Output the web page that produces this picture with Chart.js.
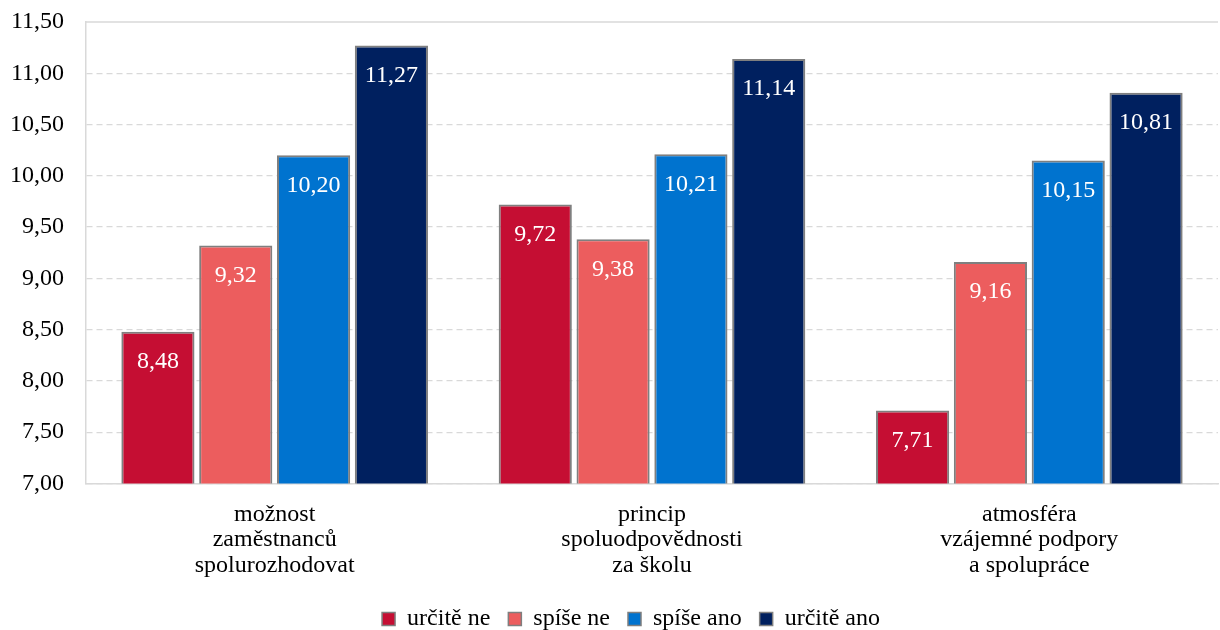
<!DOCTYPE html>
<html>
<head>
<meta charset="utf-8">
<script src="https://cdn.jsdelivr.net/npm/chart.js@4/dist/chart.umd.min.js"></script>
<style>
  html, body { margin: 0; padding: 0; background: #fff; }
  #wrap { width: 1220px; height: 630px; }
</style>
</head>
<body>
<div id="wrap"><canvas id="myChart"></canvas></div>
<script>
const categories = [
    ['možnost', 'zaměstnanců', 'spolurozhodovat'],
    ['princip', 'spoluodpovědnosti', 'za školu'],
    ['atmosféra', 'vzájemné podpory', 'a spolupráce']
];
const seriesNames = ['určitě ne', 'spíše ne', 'spíše ano', 'určitě ano'];
const urciteNe = [8.48, 9.72, 7.71];
const spiseNe = [9.32, 9.38, 9.16];
const spiseAno = [10.20, 10.21, 10.15];
const urciteAno = [11.27, 11.14, 10.81];
const yMin = 7, yMax = 11.5, yStep = 0.5;

const colors = ['#c50e33', '#ec5d5e', '#0073cf', '#00205f'];
const FONT = '"Liberation Serif", "Times New Roman", serif';

const fmt = v => v.toFixed(2).replace('.', ',');

// values written inside the top of each bar
const barLabels = {
    id: 'barLabels',
    afterDatasetsDraw(chart) {
        const ctx = chart.ctx;
        ctx.save();
        ctx.fillStyle = '#ffffff';
        ctx.font = '24px ' + FONT;
        ctx.textAlign = 'center';
        ctx.textBaseline = 'middle';
        chart.data.datasets.forEach((ds, i) => {
            chart.getDatasetMeta(i).data.forEach((bar, j) => {
                ctx.fillText(fmt(ds.data[j]), bar.x, bar.y + 30);
            });
        });
        ctx.restore();
    }
};

// solid line along the top of the plot area
const topBorder = {
    id: 'topBorder',
    beforeDatasetsDraw(chart) {
        const a = chart.chartArea;
        const ctx = chart.ctx;
        ctx.save();
        ctx.strokeStyle = '#d9d9d9';
        ctx.lineWidth = 1.5;
        ctx.beginPath();
        ctx.moveTo(a.left, a.top);
        ctx.lineTo(a.right, a.top);
        ctx.stroke();
        ctx.restore();
    }
};

// nudge the legend a little to the right, like the original
const legendShift = {
    id: 'legendShift',
    afterLayout(chart) {
        if (chart.legend) {
            chart.legend.left += 22;
            chart.legend.right += 22;
        }
    }
};

const data = {
    labels: categories,
    datasets: [urciteNe, spiseNe, spiseAno, urciteAno].map((vals, i) => ({
        label: seriesNames[i],
        data: vals,
        backgroundColor: colors[i],
        borderColor: '#7f7f7f',
        borderWidth: 2,
        categoryPercentage: 0.825,
        barPercentage: 0.94
    }))
};

const config = {
    type: 'bar',
    data: data,
    plugins: [barLabels, topBorder, legendShift],
    options: {
        responsive: true,
        maintainAspectRatio: false,
        animation: false,
        layout: { padding: { left: 0, right: 2, top: 22, bottom: -11 } },
        scales: {
            x: {
                grid: { display: false },
                border: { display: true, color: '#d9d9d9', width: 1.5 },
                ticks: {
                    color: '#000',
                    font: { family: FONT, size: 24, lineHeight: 1.05 },
                    padding: 11,
                    maxRotation: 0
                }
            },
            y: {
                min: yMin,
                max: yMax,
                afterFit: scale => {
                    scale.width = 86;
                    scale.paddingTop = 0;
                },
                grid: {
                    color: ctx => ctx.tick && ctx.tick.value === yMax ? 'rgba(0,0,0,0)' : '#d9d9d9',
                    lineWidth: 1.2,
                    drawTicks: false
                },
                border: { display: true, color: '#d9d9d9', width: 1.5, dash: [6, 4] },
                ticks: {
                    stepSize: yStep,
                    color: '#000',
                    padding: 22,
                    font: { family: FONT, size: 24 },
                    callback: v => fmt(v)
                }
            }
        },
        plugins: {
            legend: {
                position: 'bottom',
                labels: {
                    color: '#000',
                    font: { family: FONT, size: 24 },
                    boxWidth: 13,
                    boxHeight: 13,
                    padding: 18,
                    generateLabels: chart => chart.data.datasets.map((ds, i) => ({
                        text: ds.label,
                        fillStyle: ds.backgroundColor,
                        strokeStyle: '#7f7f7f',
                        lineWidth: 1.5,
                        datasetIndex: i
                    }))
                }
            },
            tooltip: { enabled: false }
        }
    }
};

const myChart = new Chart(document.getElementById('myChart'), config);
</script>
</body>
</html>
